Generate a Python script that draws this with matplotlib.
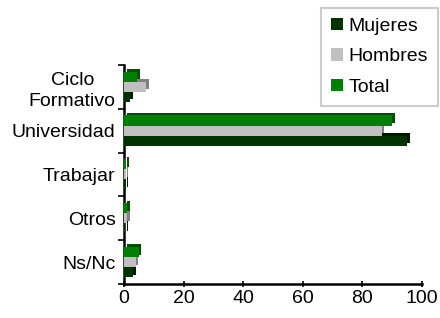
import numpy as np
import matplotlib.pyplot as plt
from matplotlib.transforms import offset_copy

categories = ["Ciclo\nFormativo", "Universidad", "Trabajar", "Otros", "Ns/Nc"]
mujeres = [2, 95, 0.5, 0.4, 3]
hombres = [7.5, 86.5, 0.6, 1.0, 4]
total = [4.5, 90, 0.7, 1.1, 5]
xTicks = [0, 20, 40, 60, 80, 100]


def drawBars(ax, yPos, values, colour, shadeColour, label):
    """Bar with a small offset shadow to mimic the old 3D look."""
    shadow = offset_copy(ax.transData, fig=ax.figure, x=2.5, y=2.5, units="dots")
    ax.barh(yPos, values, height=0.23, color=shadeColour, transform=shadow, zorder=2)
    ax.barh(yPos, values, height=0.23, color=colour, label=label, zorder=3)


def main():
    plt.rcParams["font.family"] = ["Liberation Sans", "DejaVu Sans"]
    fig = plt.figure(figsize=(4.4, 3.18), dpi=100)
    ax = fig.add_axes([0.282, 0.107, 0.677, 0.689])

    y = np.arange(len(categories))
    drawBars(ax, y + 0.23, mujeres, "#003300", "#001a00", "Mujeres")
    drawBars(ax, y, hombres, "#c0c0c0", "#808080", "Hombres")
    drawBars(ax, y - 0.23, total, "#008000", "#005000", "Total")

    ax.set_ylim(len(categories) - 0.5, -0.5)
    ax.set_xlim(0, 100)
    ax.set_xticks(xTicks)
    ax.set_yticks(y)
    ax.set_yticklabels(categories, multialignment="center", linespacing=1.3)
    ax.set_yticks(np.arange(len(categories) + 1) - 0.5, minor=True)
    ax.tick_params(axis="y", which="major", length=0, pad=6, labelsize=14)
    ax.tick_params(axis="y", which="minor", length=4, width=1.2)
    ax.tick_params(axis="x", length=4, width=1.2, direction="inout", labelsize=14, pad=2)

    for side in ["top", "right"]:
        ax.spines[side].set_visible(False)
    for side in ["left", "bottom"]:
        ax.spines[side].set_linewidth(1.8)

    handles, labels = ax.get_legend_handles_labels()
    leg = fig.legend(handles, labels, loc="upper right", bbox_to_anchor=(0.995, 0.975),
                     fontsize=14, frameon=True, fancybox=False, handlelength=0.6,
                     handleheight=0.6, handletextpad=0.3, borderpad=0.5, labelspacing=0.7,
                     borderaxespad=0)
    leg.get_frame().set_edgecolor("#c0c0c0")
    leg.get_frame().set_linewidth(1.5)

    fig.savefig("out.png", dpi=100)


main()
